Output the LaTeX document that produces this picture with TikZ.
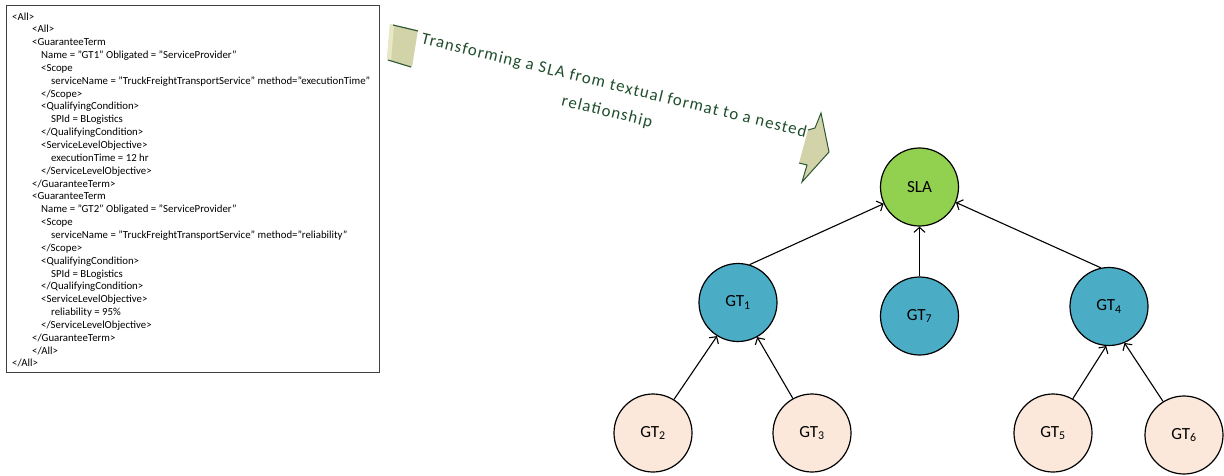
\documentclass[tikz,border=0pt]{standalone}
\usepackage{fontspec}
\setmainfont{Carlito}
\newfontfamily\bannerfont[LetterSpace=7]{Carlito}
\usetikzlibrary{arrows.meta}
\definecolor{slagreen}{HTML}{92D050}
\definecolor{gtblue}{HTML}{4BACC6}
\definecolor{gtpeach}{HTML}{FCE8DA}
\definecolor{bannerfill}{HTML}{D3D3AA}
\definecolor{bannerlight}{HTML}{E8E8C6}
\definecolor{bannerline}{HTML}{2A5634}
\definecolor{bannertext}{HTML}{1F4E2C}
\definecolor{boxline}{HTML}{404040}
\newcommand\codeln[3]{\node[codeline] (ln#2) at (#1,{20+(#2-1)*12.85}) {#3};}
\begin{document}
\begin{tikzpicture}[x=1pt,y=-1pt,
  treenode/.style={circle,draw=black,line width=1.2pt,minimum size=78pt,inner sep=0pt,
    font=\fontsize{17}{19}\selectfont},
  root/.style={treenode,fill=slagreen},
  inner/.style={treenode,fill=gtblue},
  leaf/.style={treenode,fill=gtpeach},
  link/.style={line width=1.1pt,-{Straight Barb[length=5pt,width=11pt]}},
  codeline/.style={anchor=base west,inner sep=0pt,font=\fontsize{10.8}{12}\selectfont}]
\useasboundingbox (0,0) rectangle (1224,475);

% XML listing of the agreement
\node[draw=boxline,line width=0.8pt,anchor=north west,minimum width=373pt,minimum height=367pt,inner sep=0pt] (codebox) at (6,5) {};
\codeln{12}{1}{<All>}
\codeln{32}{2}{<All>}
\codeln{32}{3}{<GuaranteeTerm}
\codeln{41}{4}{Name = "GT1" Obligated = "ServiceProvider"}
\codeln{41}{5}{<Scope}
\codeln{51}{6}{serviceName = "TruckFreightTransportService" method="executionTime"}
\codeln{41}{7}{</Scope>}
\codeln{41}{8}{<QualifyingCondition>}
\codeln{51}{9}{SPId = BLogistics}
\codeln{41}{10}{</QualifyingCondition>}
\codeln{41}{11}{<ServiceLevelObjective>}
\codeln{51}{12}{executionTime = 12 hr}
\codeln{41}{13}{</ServiceLevelObjective>}
\codeln{32}{14}{</GuaranteeTerm>}
\codeln{32}{15}{<GuaranteeTerm}
\codeln{41}{16}{Name = "GT2" Obligated = "ServiceProvider"}
\codeln{41}{17}{<Scope}
\codeln{51}{18}{serviceName = "TruckFreightTransportService" method="reliability"}
\codeln{41}{19}{</Scope>}
\codeln{41}{20}{<QualifyingCondition>}
\codeln{51}{21}{SPId = BLogistics}
\codeln{41}{22}{</QualifyingCondition>}
\codeln{41}{23}{<ServiceLevelObjective>}
\codeln{51}{24}{reliability = 95\%}
\codeln{41}{25}{</ServiceLevelObjective>}
\codeln{32}{26}{</GuaranteeTerm>}
\codeln{32}{27}{</All>}
\codeln{12}{28}{</All>}

% banner arrow: tail block
\fill[bannerfill] (390,24) -- (418,30) -- (412,67) -- (387,60) -- cycle;
\fill[bannerlight] (390,24) -- (394,25) -- (391,61) -- (387,60) -- cycle;
\draw[bannerline,line width=1.1pt] (393,25) -- (418,31);
\draw[bannerline,line width=1.1pt] (388,60) -- (411,67);
% banner arrow: head
\fill[bannerfill] (808,130) -- (815,128) -- (821,113) -- (829,152) -- (802,182) -- (807,165) -- (799,163) -- cycle;
\draw[bannerline,line width=1pt,line join=miter] (808,130) -- (815,128) -- (821,113) -- (829,152) -- (802,182) -- (807,165) -- (799,163);
% banner text, one node per line
\node[rotate=-13.7,text=bannertext,inner sep=0pt,
  font=\bannerfont\fontsize{16.8}{20}\selectfont] (bannerA) at (614,86)
  {Transforming a SLA from textual format to a nested};
\node[rotate=-13.7,text=bannertext,inner sep=0pt,
  font=\bannerfont\fontsize{16.8}{20}\selectfont] (bannerB) at (607,112)
  {relationship};

% nested relationship tree
\node[root]  (sla) at (919.5,187) {SLA};
\node[inner] (gt1) at (738,302.5) {GT\textsubscript{1}};
\node[inner] (gt7) at (919.5,316) {GT\textsubscript{7}};
\node[inner] (gt4) at (1109,306.5) {GT\textsubscript{4}};
\node[leaf]  (gt2) at (653,433) {GT\textsubscript{2}};
\node[leaf]  (gt3) at (812,433) {GT\textsubscript{3}};
\node[leaf]  (gt5) at (1053,433) {GT\textsubscript{5}};
\node[leaf]  (gt6) at (1184,435) {GT\textsubscript{6}};

\draw[link] (gt1.73) -- (sla.205);
\draw[link] (gt7.north) -- (sla.south);
\draw[link] (gt4.102) -- (sla.337);
\draw[link] (gt2.58) -- (gt1.238);
\draw[link] (gt3.119) -- (gt1.299);
\draw[link] (gt5.60) -- (gt4.266);
\draw[link] (gt6.122) -- (gt4.293);
\end{tikzpicture}
\end{document}
